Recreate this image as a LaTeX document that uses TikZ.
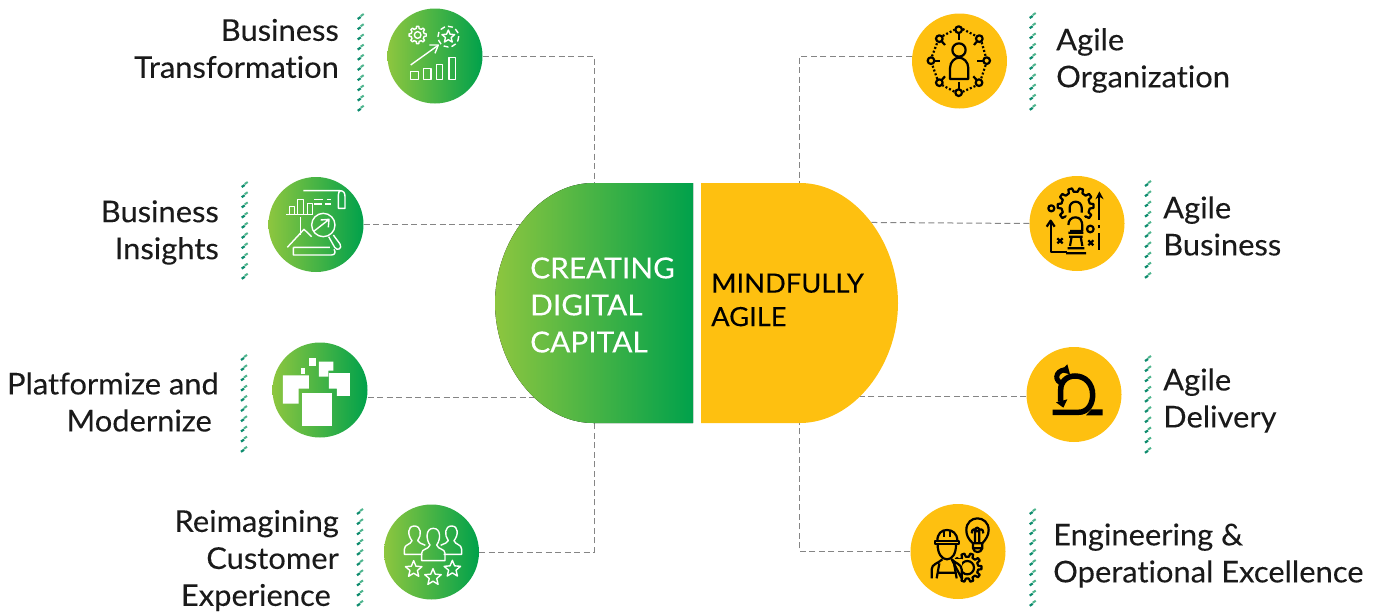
\documentclass[tikz,border=0pt]{standalone}
\usepackage{fontspec}
\setmainfont{Lato}[FakeStretch=1.03,FakeBold=0.12,Ligatures=NoCommon]
\definecolor{gstart}{HTML}{8DC63F}
\definecolor{gmid}{HTML}{50AE4A}
\definecolor{gend}{HTML}{00A14B}
\definecolor{amber}{HTML}{FEC010}
\definecolor{hdark}{HTML}{0E8C6E}
\definecolor{hlight}{HTML}{4FB58E}
\definecolor{ink}{HTML}{1A1A1A}
\tikzset{
  gcirc/.style={circle,minimum size=95pt,inner sep=0pt,left color=gstart,middle color=gmid,right color=gend},
  ycirc/.style={circle,minimum size=95pt,inner sep=0pt,fill=amber},
  conn/.style={draw=black!48,line width=1pt,dash pattern=on 6pt off 3.5pt},
  lbl/.style={font=\fontsize{30}{37}\selectfont,text=ink,inner sep=0pt},
  wicon/.style={draw=white,line width=1.4pt,line join=round,fill=none},
  bicon/.style={draw=black,line width=2.2pt,line join=round,fill=none},
  core/.style={minimum width=198pt,minimum height=240pt,inner sep=0pt},
}
\newcommand\hatchstrip[3]{%
  \foreach \k in {0,...,9}{%
    \draw[hdark,line width=2.2pt] (#1-3,{#2+#3*\k+7}) -- (#1,{#2+#3*\k+5});
    \draw[hlight,line width=2pt] (#1,{#2+#3*\k+4}) -- (#1+3,{#2+#3*\k+2});
  }}
\newcommand\istar[4][wicon]{\draw[#1] ([shift={(#2,#3)}]-90:#4)
  \foreach \i in {0,...,4}{ -- ([shift={(#2,#3)}]{-54+72*\i}:{0.45*#4}) -- ([shift={(#2,#3)}]{-18+72*\i}:#4) } -- cycle;}
\newcommand\igear[6][wicon]{\draw[#1] ([shift={(#2,#3)}]{-0.28*360/#6}:#5)
  \foreach \i in {0,...,\numexpr#6-1\relax}{
    -- ([shift={(#2,#3)}]{360*\i/#6-0.17*360/#6}:#4)
    -- ([shift={(#2,#3)}]{360*\i/#6+0.17*360/#6}:#4)
    -- ([shift={(#2,#3)}]{360*\i/#6+0.28*360/#6}:#5)
    -- ([shift={(#2,#3)}]{360*\i/#6+0.72*360/#6}:#5)
  } -- cycle;}
\begin{document}
\begin{tikzpicture}[x=1pt,y=-1pt]
\useasboundingbox (0,0) rectangle (1384,613);
% anchors for the central halves
\node[core] (dc) at (594,303) {};
\node[core] (ma) at (799.5,303) {};
% circles
\node[gcirc] (bt) at (435,56) {};
\node[gcirc] (bi) at (316,224.5) {};
\node[gcirc] (pm) at (320,390) {};
\node[gcirc] (rc) at (431.5,552) {};
\node[ycirc] (ao) at (959.5,61) {};
\node[ycirc] (ab) at (1077,223.5) {};
\node[ycirc] (ad) at (1074,394.5) {};
\node[ycirc] (eo) at (958,551.5) {};
\coordinate (abend) at (800,222);
% connectors
\draw[conn] (bt.east) -| (dc.north);
\draw[conn] (bi.east) -- (dc.center |- bi.east);
\draw[conn] (pm.east |- 0,397) -- (dc.center |- 0,397);
\draw[conn] (rc.east) -| (dc.south);
\draw[conn] (ao.west |- 0,56) -| (ma.north);
\draw[conn] (ab.west) -- (abend);
\draw[conn] (ad.west |- 0,396.5) -- (ma.center |- 0,396.5);
\draw[conn] (eo.west) -| (ma.south);
% central halves
\fill[left color=gstart,middle color=gmid,right color=gend] (693,183) -- (593,183) .. controls (540,183) and (495,240) .. (495,303) .. controls (495,366) and (540,423) .. (593,423) -- (693,423) -- cycle;
\fill[amber] (701,183) -- (800,183) .. controls (853,183) and (898,240) .. (898,303) .. controls (898,366) and (853,423) .. (800,423) -- (701,423) -- cycle;
\node[font=\fontsize{29}{37}\selectfont,inner sep=0pt,text=white,anchor=west,align=left] (dcl) at (530,305) {CREATING\\DIGITAL\\CAPITAL};
\node[font=\fontsize{26.5}{33.5}\selectfont,text=black,inner sep=0pt,anchor=west,align=left] (mal) at (711,300) {MINDFULLY\\AGILE};
% labels
\node[lbl,anchor=east,align=right] (t1) at (339,48.5) {Business\\Transformation};
\node[lbl,anchor=east,align=right] (t2) at (219,232.5) {Business\\Insights};
\node[lbl,anchor=east,align=right] (t3) at (219,402) {Platformize and\\Modernize\hspace*{7pt}};
\node[lbl,anchor=east,align=right] (t4) at (339,560.5) {Reimagining\\Customer\\Experience\hspace*{8pt}};
\node[lbl,anchor=west,align=left] (t5) at (1056,60.5) {Agile\\Organization};
\node[lbl,anchor=west,align=left] (t6) at (1163,226) {Agile\\Business};
\node[lbl,anchor=west,align=left] (t7) at (1163,400.5) {Agile\\Delivery};
\node[lbl,anchor=west,align=left] (t8) at (1053,555.5) {Engineering \&\\Operational Excellence};
% hatched strips
\hatchstrip{360.7}{12}{10.2}
\hatchstrip{244.7}{180}{10.2}
\hatchstrip{244}{353}{10.2}
\hatchstrip{360}{507}{10.2}
\hatchstrip{1032.7}{11}{10.2}
\hatchstrip{1148}{179}{10.2}
\hatchstrip{1148}{354}{10.2}
\hatchstrip{1032.7}{507}{10.2}
% icon: business transformation
\begin{scope}[shift={(340,0)},x=.3333pt,y=-.3333pt]
\igear{233}{105}{26}{20}{8}
\draw[wicon] (233,105) circle (10);
\draw[wicon,dash pattern=on 5pt off 3pt] (325,110) circle (31);
\istar{325}{110}{20}
\draw[wicon] (212,195) -- (293,137);
\draw[wicon] (268,135) -- (295,135) -- (285,160);
\draw[wicon] (212,215) rectangle (235,238);
\draw[wicon] (250,205) rectangle (273,238);
\draw[wicon] (289,193) rectangle (308,238);
\draw[wicon] (327,172) rectangle (347,238);
\end{scope}
% icon: business insights
\begin{scope}[shift={(230,170)},x=.3333pt,y=-.3333pt]
\draw[wicon] (220,62) -- (330,62) .. controls (342,62) and (345,70) .. (345,80) -- (345,115) -- (325,115) -- (325,75) .. controls (325,68) and (328,62) .. (332,62);
\draw[wicon] (168,133) -- (250,133);
\draw[wicon] (178,133) -- (178,110) -- (193,110) -- (193,133);
\draw[wicon] (202,133) -- (202,88) -- (220,88) -- (220,133);
\draw[wicon] (232,133) -- (232,100) -- (248,100) -- (248,133);
\draw[wicon] (253,88) -- (278,88) (290,88) -- (303,88) (253,102) -- (275,102) (285,102) -- (303,102);
\draw[wicon] (212,140) -- (212,195);
\draw[wicon] (172,232) -- (222,178) -- (245,200);
\draw[wicon] (280,165) circle (35);
\draw[wicon] (250,185) -- (295,150) (272,150) -- (297,148) -- (295,172);
\draw[wicon] (310,195) -- (330,222) .. controls (338,235) and (322,245) .. (314,232) -- (296,200);
\draw[wicon] (190,232) -- (300,232) (190,232) -- (190,255) -- (305,255) .. controls (315,255) and (318,245) .. (312,238);
\end{scope}
% icon: platformize
\begin{scope}[shift={(230,340)},x=.3333pt,y=-.3333pt]
\fill[white] (217,160) rectangle (306,258);
\fill[white] (159,106) -- (237,106) -- (237,146) -- (206,146) -- (206,191) -- (159,191) -- cycle;
\fill[white] (237,54) rectangle (258,78);
\fill[white] (213,84) rectangle (225,102);
\fill[white] (267,65) -- (310,65) -- (310,92) -- (295,92) -- (295,110) -- (267,110) -- cycle;
\fill[white] (297,99) -- (360,99) -- (360,168) -- (321,168) -- (321,146) -- (297,146) -- cycle;
\end{scope}
% icon: customer experience
\begin{scope}[shift={(350,500)},x=.3333pt,y=-.3333pt]
\draw[wicon] (217,163) -- (163,163) -- (163,148) .. controls (163,132) and (182,135) .. (186,122) .. controls (172,105) and (172,78) .. (193,78) .. controls (214,78) and (216,105) .. (203,122) .. controls (206,130) and (215,130) .. (226,136);
\draw[wicon] (281,163) -- (335,163) -- (335,148) .. controls (335,132) and (316,135) .. (312,122) .. controls (326,105) and (326,78) .. (305,78) .. controls (284,78) and (282,105) .. (295,122) .. controls (292,130) and (283,130) .. (272,136);
\draw[wicon] (215,182) -- (215,160) .. controls (215,145) and (235,150) .. (240,135) .. controls (228,120) and (226,85) .. (250,85) .. controls (274,85) and (272,120) .. (260,135) .. controls (265,150) and (285,145) .. (285,160) -- (285,182) -- cycle;
\istar{191}{208}{26}
\istar{249}{232}{26}
\istar{307}{207}{26}
\end{scope}
% icon: agile organization
\begin{scope}[shift={(900,5)},x=.3333pt,y=-.3333pt]
\draw[bicon] (177,135) circle (20);
\draw[bicon] (150,222) -- (150,190) .. controls (150,170) and (165,158) .. (177,158) .. controls (190,158) and (205,170) .. (205,190) -- (205,222) -- cycle;
\foreach \a/\b/\c/\d in {176/74/176/105,238/101/222/120,260/167/232/167,237/233/220/214,176/263/176/232,118/233/135/214,93/167/120/167,118/101/135/120}{
  \draw[bicon] (\a,\b) -- (\c,\d);
  \draw[bicon,fill=amber] (\a,\b) circle (10);
}
\draw[bicon,dash pattern=on 2pt off 2pt] (188,72) -- (226,92) (245,112) -- (257,154) (257,180) -- (243,222) (226,243) -- (189,260) (163,260) -- (128,241) (112,222) -- (97,180) (96,154) -- (112,112) (128,93) -- (164,74);
\end{scope}
% icon: agile business
\begin{scope}[shift={(1020,170)},x=.3333pt,y=-.3333pt]
\igear[bicon]{167}{108}{54}{43}{10}
\fill[amber] (166,160) circle (34);
\draw[bicon] (149,128) -- (149,113) arc (180:360:18) -- (185,128);
\draw[bicon,fill=amber] (145,165) .. controls (145,150) and (155,142) .. (166,142) .. controls (180,142) and (187,152) .. (187,168) -- (187,183) -- (150,183);
\draw[bicon] (145,188) -- (190,188) (147,200) -- (188,200) (155,200) -- (150,228) (182,200) -- (187,228) (143,235) -- (193,235) (138,250) -- (198,250);
\draw[bicon] (238,240) -- (238,190) (238,175) -- (238,165) (238,150) -- (238,72);
\fill[black] (226,88) -- (238,64) -- (251,88) -- (238,80) -- cycle;
\draw[bicon] (92,155) -- (92,245) -- (140,245);
\draw[bicon] (80,170) -- (92,152) -- (104,170);
\draw[bicon] (94,115) circle (9);
\draw[bicon] (211,177) circle (10);
\draw[bicon] (112,205) -- (128,220) (128,205) -- (112,220);
\draw[bicon] (205,211) -- (220,226) (220,211) -- (205,226);
\end{scope}
% icon: agile delivery
\begin{scope}[shift={(1020,345)},x=.3333pt,y=-.3333pt]
\draw[black,line width=5.5pt,line cap=butt] (98,202) -- (175,202) .. controls (205,202) and (218,175) .. (218,150) .. controls (218,115) and (195,93) .. (165,93) .. controls (140,93) and (122,110) .. (122,135) -- (122,170);
\fill[black] (108,172) -- (142,163) -- (130,188) -- cycle;
\draw[black,line width=5pt] (132,117) .. controls (100,110) and (105,78) .. (135,74);
\fill[black] (142,58) -- (150,88) -- (120,80) -- cycle;
\fill[black] (198,211) -- (214,193) -- (248,193) -- (248,211) -- cycle;
\end{scope}
% icon: engineering
\begin{scope}[shift={(900,500)},x=.3333pt,y=-.3333pt]
\draw[bicon] (219,130) .. controls (205,118) and (199,105) .. (199,90) .. controls (199,68) and (215,55) .. (232,55) .. controls (250,55) and (266,68) .. (266,90) .. controls (266,105) and (258,118) .. (247,130) -- cycle;
\draw[bicon] (225,130) -- (225,92) .. controls (225,80) and (238,80) .. (238,92) -- (238,130) (215,100) .. controls (215,85) and (225,85) .. (232,95) .. controls (240,85) and (250,85) .. (250,100);
\draw[bicon] (219,130) -- (219,145) .. controls (222,160) and (243,160) .. (247,145) -- (247,130) (219,145) -- (247,145);
\igear[bicon]{202}{203}{43}{33}{10}
\draw[bicon] (202,203) circle (20);
\fill[amber] (95,178) rectangle (185,235);
\draw[bicon] (105,132) -- (178,132) -- (178,123) -- (105,123) -- cycle;
\draw[bicon] (112,123) .. controls (112,100) and (125,90) .. (141,90) .. controls (157,90) and (172,100) .. (172,123);
\draw[bicon] (132,92) -- (132,110) (150,92) -- (150,110);
\draw[bicon] (113,135) .. controls (113,160) and (125,178) .. (141,178) .. controls (157,178) and (168,160) .. (168,135);
\draw[bicon] (95,235) -- (95,208) .. controls (95,192) and (115,190) .. (127,178) (155,178) .. controls (165,190) and (185,192) .. (185,208) -- (185,235) -- cycle;
\draw[bicon] (110,235) -- (118,190) (170,235) -- (162,190) (112,218) -- (168,218);
\end{scope}
\end{tikzpicture}
\end{document}
